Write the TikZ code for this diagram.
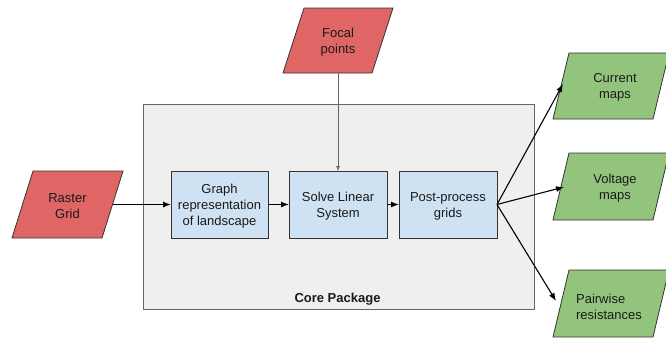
\documentclass[tikz,border=0pt]{standalone}
\usepackage{fontspec}
\setmainfont{Liberation Sans}
\usetikzlibrary{arrows.meta}
\definecolor{redfill}{HTML}{E06666}
\definecolor{greenfill}{HTML}{93C47D}
\definecolor{bluefill}{HTML}{CFE2F3}
\definecolor{corefill}{HTML}{EFEFEF}
\definecolor{coreline}{HTML}{666666}
\definecolor{darkline}{HTML}{333333}
\definecolor{txt}{HTML}{1A1A1A}
\tikzset{
  lbl/.style={text=txt, align=center, font=\fontsize{13}{16}\selectfont, inner sep=0pt, yshift=-1.5pt},
  procbox/.style={draw=darkline, line width=0.8pt, fill=bluefill},
  inshape/.style={draw=darkline, line width=0.8pt, fill=redfill},
  outshape/.style={draw=darkline, line width=0.8pt, fill=greenfill},
  flow/.style={-{Latex[length=8pt,width=6pt]}, line width=1.1pt, black},
  thinflow/.style={-{Latex[length=5pt,width=4pt]}, line width=0.5pt, coreline},
}
\begin{document}
\begin{tikzpicture}[x=1pt,y=-1pt]
\useasboundingbox (0,0) rectangle (666,338);
% core package
\draw[draw=coreline, line width=1pt, fill=corefill] (143,104) rectangle (534,309);
\node[lbl, font=\fontsize{13}{16}\selectfont\bfseries] (core) at (337.5,298) {Core Package};
% input parallelograms
\draw[inshape] (33,171) -- (123,171) -- (102,238) -- (12,238) -- cycle;
\node[lbl] (raster) at (67.5,204.5) {Raster\\Grid};
\coordinate (rasterR) at (112.5,204.5);
\draw[inshape] (304,8) -- (393,8) -- (372,73) -- (283,73) -- cycle;
\node[lbl] (focal) at (338,40.5) {Focal\\points};
\coordinate (focalB) at (338,73);
% process boxes
\draw[procbox] (171,171) rectangle (268,238);
\node[lbl] (graph) at (219.5,204.5) {Graph\\representation\\of landscape};
\coordinate (graphL) at (171,204.5);
\coordinate (graphR) at (268,204.5);
\draw[procbox] (289,171) rectangle (387,238);
\node[lbl] (solve) at (338,204.5) {Solve Linear\\System};
\coordinate (solveL) at (289,204.5);
\coordinate (solveR) at (387,204.5);
\coordinate (solveT) at (338,171);
\draw[procbox] (399,171) rectangle (497,238);
\node[lbl] (post) at (448,204.5) {Post-process\\grids};
\coordinate (postL) at (399,204.5);
\coordinate (postR) at (497,204.5);
% output parallelograms
\draw[outshape] (569,53) -- (669,53) -- (653,119) -- (553,119) -- cycle;
\node[lbl] (current) at (615,86) {Current\\maps};
\coordinate (currentL) at (563,84);
\draw[outshape] (569,153) -- (669,153) -- (653,220) -- (553,220) -- cycle;
\node[lbl] (voltage) at (615,186.5) {Voltage\\maps};
\coordinate (voltageL) at (564,187);
\draw[outshape] (569,270) -- (669,270) -- (653,337) -- (553,337) -- cycle;
\node[lbl, align=left] (pairwise) at (609,305) {Pairwise\\resistances};
\coordinate (pairwiseL) at (556,301);
% connectors
\draw[flow] (rasterR) -- (graphL);
\draw[flow] (graphR) -- (solveL);
\draw[flow] (solveR) -- (postL);
\draw[thinflow] (focalB) -- (solveT);
\draw[flow] (postR) -- (currentL);
\draw[flow] (postR) -- (voltageL);
\draw[flow] (postR) -- (pairwiseL);
\end{tikzpicture}
\end{document}
